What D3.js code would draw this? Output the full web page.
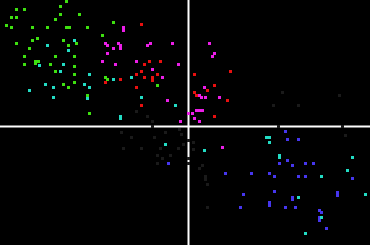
<!DOCTYPE html>
<html>
<head>
<meta charset="utf-8">
<script src="https://cdn.jsdelivr.net/npm/d3@7"></script>
<style>
    html, body { margin: 0; padding: 0; background: #000; }
    #chart { width: 370px; height: 245px; }
</style>
</head>
<body>
<div id="chart"></div>
<script>
// scatter clusters, [x, y] per point
const greenPts = [
    [-12.22, 12.48], [-17.22, 11.72], [-16.42, 11.72], [-12.78, 11.98], [-17.72, 10.95],
    [-17.18, 10.95], [-12.78, 11.22], [-10.92, 11.22], [-13.32, 10.68], [-18.22, 10.15],
    [-17.68, 9.92], [-15.62, 9.92], [-14.08, 9.92], [-12.22, 9.92], [-11.92, 9.92],
    [-10.15, 9.92], [-7.55, 10.42], [-8.62, 9.15], [-15.12, 8.85], [-15.62, 8.62],
    [-12.52, 8.62], [-11.22, 8.35], [-17.22, 8.35], [-11.98, 8.08], [-15.88, 7.82],
    [-16.42, 7.05], [-13.32, 7.05], [-11.45, 7.05], [-15.35, 6.5], [-15.0, 6.5],
    [-15.35, 6.3], [-16.42, 6.25], [-13.82, 6.25], [-11.45, 6.02], [-13.32, 5.48],
    [-11.45, 5.22], [-11.45, 4.42], [-12.52, 4.18], [-11.98, 3.92], [-10.15, 3.1],
    [-9.92, 1.32], [-8.32, 4.95], [-8.08, 4.68], [-3.12, 4.15]
];

const cyanPts = [
    [-14.08, 8.08], [-11.45, 8.62], [-11.98, 7.58], [-12.52, 6.25], [-12.78, 5.48],
    [-9.92, 5.22], [-14.32, 4.18], [-13.55, 3.92], [-15.88, 3.65], [-10.42, 4.18],
    [-9.92, 3.92], [-13.55, 2.88], [-7.55, 4.68], [-5.72, 4.95], [-4.68, 2.88],
    [-1.32, 2.12], [-6.78, 1.0], [-6.78, 0.8], [-14.9, 6.15], [-10.15, 2.85],
    [-2.35, -1.8], [1.58, -2.35], [7.8, -1.05], [8.1, -1.05], [8.08, -1.58],
    [9.12, -2.85], [9.12, -3.1], [16.38, -3.12], [15.88, -4.42], [13.28, -4.95],
    [17.68, -6.78], [10.95, -7.05], [13.28, -9.12], [11.72, -10.68]
];

const magentaPts = [
    [-6.52, 9.9], [-6.52, 9.65], [-8.35, 8.35], [-8.08, 8.08], [-7.05, 8.35],
    [-6.78, 8.08], [-6.78, 7.82], [-7.55, 7.82], [-3.85, 8.3], [-4.15, 8.1],
    [-1.58, 8.35], [-8.08, 7.32], [-8.62, 6.52], [-7.32, 6.25], [-5.22, 6.52],
    [-1.05, 6.25], [-3.65, 5.72], [-2.62, 4.95], [-2.12, 2.62], [-0.82, 0.52],
    [2.08, 8.35], [2.62, 7.32], [2.35, 7.05], [1.58, 3.92], [1.05, 3.12],
    [1.3, 2.88], [1.65, 2.88], [3.12, 2.88], [0.8, 1.58], [1.1, 1.58],
    [1.35, 1.58], [0.0, 1.32], [0.35, 1.32], [0.55, 0.82], [1.05, 0.52],
    [3.38, -2.08]
];

const redPts = [
    [-4.68, 10.18], [-4.42, 6.25], [-3.88, 6.52], [-2.85, 6.52], [-5.22, 5.22],
    [-4.68, 5.48], [-4.42, 4.95], [-3.65, 4.95], [-3.65, 4.65], [-3.12, 5.22],
    [-6.78, 4.68], [-8.35, 4.42], [-5.22, 3.92], [-4.68, 2.12], [0.55, 5.22],
    [4.15, 5.48], [2.62, 4.15], [0.55, 3.38], [0.82, 3.12], [1.85, 3.65],
    [3.88, 2.62], [2.62, 1.05]
];

const bluePts = [
    [-2.05, -3.65], [9.65, -0.52], [9.88, -1.32], [10.95, -1.32], [9.12, -3.65],
    [9.88, -3.38], [10.42, -3.88], [11.72, -3.65], [12.52, -3.65], [3.65, -4.68],
    [6.28, -4.68], [8.08, -4.68], [8.58, -4.95], [10.95, -4.95], [11.72, -4.95],
    [16.38, -5.22], [5.48, -6.78], [8.58, -6.52], [10.42, -7.05], [10.42, -7.3],
    [8.08, -7.6], [8.08, -7.85], [14.85, -6.6], [14.85, -6.85], [5.18, -8.08],
    [9.65, -8.08], [10.68, -8.08], [13.05, -8.35], [13.28, -8.62], [13.05, -9.12],
    [13.05, -9.35], [13.82, -10.15]
];

const darkPts = [
    [-6.75, -0.55], [-5.7, -1.05], [-6.5, -2.15], [-4.7, -2.15], [-3.45, -1.05],
    [-2.35, -0.55], [-0.95, -0.25], [-0.75, -0.75], [-0.55, -1.8], [-1.05, -2.15],
    [-2.85, -2.15], [-3.15, -2.85], [-1.85, -2.85], [-2.65, -3.15], [-3.15, -3.65],
    [0.45, -1.55], [0.45, -2.25], [1.05, -4.15], [1.35, -3.85], [1.65, -4.95],
    [1.65, -5.25], [1.85, -5.75], [1.85, -8.05], [-3.65, 0], [9.0, 0],
    [15.35, 0], [0, -1.35], [0, -3.15], [0, -3.65], [-5.25, 1.55],
    [-4.15, 1.05], [-3.65, 0.55], [9.35, 3.45], [15.05, 3.15], [8.45, 2.15],
    [10.95, 2.15], [15.65, -0.85]
];

const series = [
    {name: "blue",    color: "#4636ee", points: bluePts},
    {name: "cyan",    color: "#22dcc4", points: cyanPts},
    {name: "red",     color: "#e81010", points: redPts},
    {name: "magenta", color: "#ec1ee8", points: magentaPts},
    {name: "green",   color: "#3ee010", points: greenPts},
    {name: "dark",    color: "#1a1a1a", points: darkPts}
];

const xDomain = [-18.85, 18.15];
const yDomain = [-11.85, 12.65];

let width = 370, height = 245;
let markSize = 3;

let svg = d3.select("#chart").append("svg")
    .attr("width", width)
    .attr("height", height)
    .style("display", "block")
    .style("background", "#000");

let x = d3.scaleLinear().domain(xDomain).range([0, width]);
let y = d3.scaleLinear().domain(yDomain).range([height, 0]);

// axes through the origin
svg.append("line")
    .attr("x1", x(xDomain[0])).attr("x2", x(xDomain[1]))
    .attr("y1", y(0)).attr("y2", y(0))
    .attr("stroke", "#fff")
    .attr("stroke-width", 2);

svg.append("line")
    .attr("x1", x(0)).attr("x2", x(0))
    .attr("y1", y(yDomain[0])).attr("y2", y(yDomain[1]))
    .attr("stroke", "#fff")
    .attr("stroke-width", 2);

// one group per cluster
let groups = svg.selectAll(".cluster")
    .data(series)
    .enter()
    .append("g")
    .attr("class", "cluster")
    .attr("fill", d => d.color);

groups.selectAll("rect")
    .data(d => d.points)
    .enter()
    .append("rect")
    .attr("x", d => x(d[0]) - markSize / 2)
    .attr("y", d => y(d[1]) - markSize / 2)
    .attr("width", markSize)
    .attr("height", markSize)
    .attr("shape-rendering", "crispEdges");
</script>
</body>
</html>
